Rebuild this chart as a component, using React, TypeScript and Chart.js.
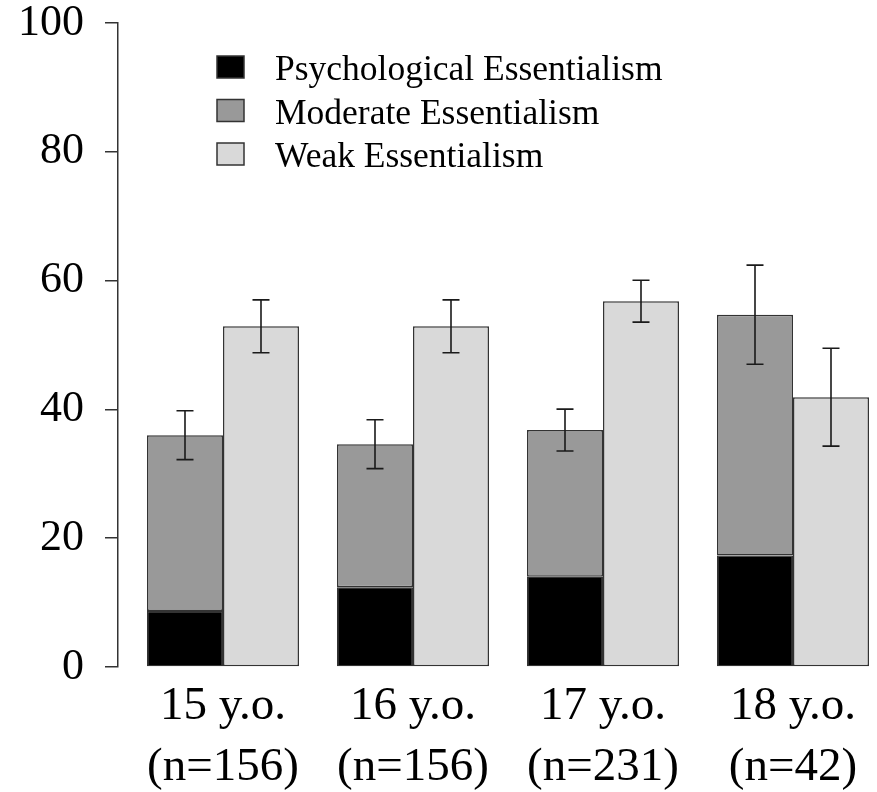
import React, { useEffect, useRef } from "react";
import { Chart, registerables } from "chart.js";

Chart.register(...registerables);

// Age groups along the x axis and their sample sizes
const ageGroups = ["15 y.o.", "16 y.o.", "17 y.o.", "18 y.o."];
const sampleSizes = ["(n=156)", "(n=156)", "(n=231)", "(n=42)"];
const groupPositions = [1, 2, 3, 4];

// Percentages per category (psychological + moderate are stacked)
const psychological = [8.7, 12.4, 14.0, 17.3];
const moderate = [27.3, 22.2, 22.8, 37.4];
const weak = [52.9, 52.9, 56.8, 41.9];

// Error margins: around the stacked total, and around the weak bar
const combinedError = [3.8, 3.8, 3.25, 7.7];
const weakError = [4.1, 4.1, 3.25, 7.6];

const yTicks = [0, 20, 40, 60, 80, 100];

const SERIF = "'Liberation Serif', 'Times New Roman', serif";

const errorBarPlugin = {
  id: "errorBars",
  afterDatasetsDraw(chart: any) {
    const ctx = chart.ctx;
    const y = chart.scales.y;
    const modMeta = chart.getDatasetMeta(1);
    const weakMeta = chart.getDatasetMeta(2);
    const cap = 8.5;
    ctx.save();
    ctx.strokeStyle = "#1a1a1a";
    ctx.lineWidth = 1.6;
    const draw = (x: number, lo: number, hi: number) => {
      const yl = y.getPixelForValue(lo);
      const yh = y.getPixelForValue(hi);
      ctx.beginPath();
      ctx.moveTo(x, yl);
      ctx.lineTo(x, yh);
      ctx.moveTo(x - cap, yh);
      ctx.lineTo(x + cap, yh);
      ctx.moveTo(x - cap, yl);
      ctx.lineTo(x + cap, yl);
      ctx.stroke();
    };
    groupPositions.forEach((_, i) => {
      const total = psychological[i] + moderate[i];
      draw(modMeta.data[i].x, total - combinedError[i], total + combinedError[i]);
      draw(weakMeta.data[i].x, weak[i] - weakError[i], weak[i] + weakError[i]);
    });
    ctx.restore();
  },
};

const legendPlugin = {
  id: "cornerLegend",
  afterDraw(chart: any) {
    const ctx = chart.ctx;
    const boxX = 217;
    const boxW = 27;
    const boxH = 22;
    const textX = 275;
    const rowCenters = [67, 110.5, 154];
    ctx.save();
    ctx.font = `35.5px ${SERIF}`;
    ctx.textBaseline = "alphabetic";
    ctx.textAlign = "left";
    chart.data.datasets.forEach((ds: any, i: number) => {
      const cy = rowCenters[i];
      ctx.fillStyle = ds.backgroundColor;
      ctx.fillRect(boxX, cy - boxH / 2, boxW, boxH);
      ctx.strokeStyle = "#333";
      ctx.lineWidth = 1.5;
      ctx.strokeRect(boxX, cy - boxH / 2, boxW, boxH);
      ctx.fillStyle = "#000";
      ctx.fillText(ds.label, textX, cy + 13);
    });
    ctx.restore();
  },
};

export default function App() {
  const canvasRef = useRef<HTMLCanvasElement | null>(null);

  useEffect(() => {
    const canvas = canvasRef.current;
    if (!canvas) return;
    const toPoints = (vals: number[]) =>
      vals.map((v, i) => ({ x: groupPositions[i], y: v }));

    const chart = new Chart(canvas, {
      type: "bar",
      data: {
        datasets: [
          {
            label: "Psychological Essentialism",
            data: toPoints(psychological),
            backgroundColor: "#000000",
            borderColor: "#333333",
            borderWidth: 1.2,
            borderSkipped: false,
            stack: "essential",
          },
          {
            label: "Moderate Essentialism",
            data: toPoints(moderate),
            backgroundColor: "#999999",
            borderColor: "#333333",
            borderWidth: 1.5,
            borderSkipped: false,
            stack: "essential",
          },
          {
            label: "Weak Essentialism",
            data: toPoints(weak),
            backgroundColor: "#d9d9d9",
            borderColor: "#333333",
            borderWidth: 1.5,
            borderSkipped: false,
            stack: "weak",
          },
        ] as any,
      },
      options: {
        responsive: false,
        animation: false,
        categoryPercentage: 0.8,
        barPercentage: 1.0,
        layout: { padding: { top: 23, right: 0, left: 0, bottom: 0 } },
        plugins: {
          legend: { display: false },
          tooltip: { enabled: false },
          title: { display: false },
        },
        scales: {
          x: {
            type: "linear",
            offset: false,
            min: 0.4474,
            max: 4.4421,
            grid: { display: false },
            border: { display: false },
            afterBuildTicks: (scale: any) => {
              scale.ticks = groupPositions.map((v) => ({ value: v }));
            },
            afterFit: (scale: any) => {
              scale.height = 125;
              scale.paddingLeft = 0;
              scale.paddingRight = 0;
            },
            ticks: {
              autoSkip: false,
              maxRotation: 0,
              minRotation: 0,
              padding: 2,
              color: "#000",
              font: { family: SERIF, size: 47, lineHeight: 1.28 },
              callback: (value: any) => {
                const i = groupPositions.indexOf(Number(value));
                return i >= 0 ? [ageGroups[i], sampleSizes[i]] : "";
              },
            },
          },
          y: {
            stacked: true,
            min: 0,
            max: 100,
            afterBuildTicks: (scale: any) => {
              scale.ticks = yTicks.map((v) => ({ value: v }));
            },
            afterFit: (scale: any) => {
              scale.width = 118;
              scale.paddingTop = 0;
              scale.paddingBottom = 0;
            },
            grid: {
              display: true,
              drawOnChartArea: false,
              drawTicks: true,
              tickLength: 13,
              color: "#333333",
              lineWidth: 1.5,
            },
            border: { display: true, color: "#333333", width: 1.5 },
            ticks: {
              padding: 21,
              color: "#000",
              font: { family: SERIF, size: 44, lineHeight: 1 },
            },
          },
        },
      } as any,
      plugins: [errorBarPlugin, legendPlugin],
    });

    return () => chart.destroy();
  }, []);

  return (
    <div
      style={{
        position: "fixed",
        left: 0,
        top: 0,
        width: 877,
        height: 792,
        overflow: "hidden",
        background: "#fff",
      }}
    >
      <canvas
        ref={canvasRef}
        width={877}
        height={792}
        style={{ width: 877, height: 792, display: "block" }}
      />
    </div>
  );
}
